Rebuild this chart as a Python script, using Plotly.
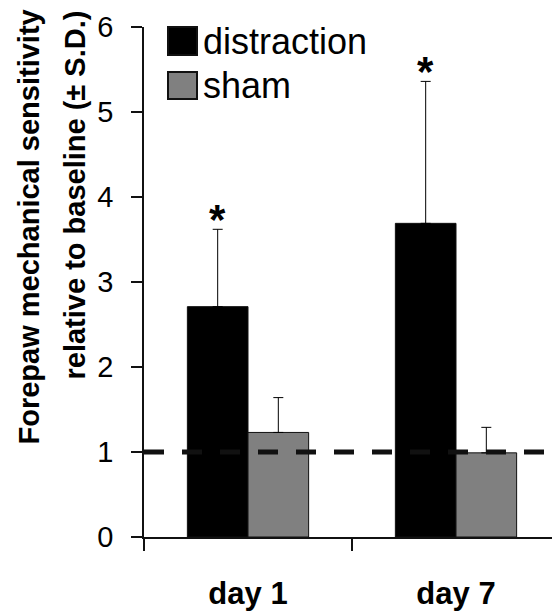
import plotly.graph_objects as go

# ---- data ----
categories = ["day 1", "day 7"]
distraction = [2.71, 3.69]
distraction_sd = [0.91, 1.67]
sham = [1.23, 0.99]
sham_sd = [0.41, 0.30]
baseline = 1.0
significance = ["*", "*"]
series_names = ["distraction", "sham"]
y_ticks = [0, 1, 2, 3, 4, 5, 6]
y_title_lines = ["Forepaw mechanical sensitivity", "relative to baseline (± S.D.)"]

FONT = "Liberation Sans, Arial, sans-serif"
OFF = 8  # page body margin
W, H = 560 - OFF, 612 - OFF
L, R, T, B = 144 - OFF, 0, 27 - OFF, 75
PW, PH = W - L - R, H - T - B


def px(xp):
    return (xp - OFF - L) / PW


def py(yp):
    return (H - B - (yp - OFF)) / PH


fig = go.Figure()
fig.add_trace(go.Bar(
    x=categories, y=distraction, name=series_names[0],
    marker=dict(color="#000000", line=dict(color="#111111", width=1)),
    error_y=dict(type="data", array=distraction_sd, arrayminus=[0] * len(distraction_sd),
                 symmetric=False, color="#000000", thickness=1, width=5),
    showlegend=False,
))
fig.add_trace(go.Bar(
    x=categories, y=sham, name=series_names[1],
    marker=dict(color="#808080", line=dict(color="#111111", width=1)),
    error_y=dict(type="data", array=sham_sd, arrayminus=[0] * len(sham_sd),
                 symmetric=False, color="#000000", thickness=1, width=5),
    showlegend=False,
))

# baseline dashed line
fig.add_shape(type="line", xref="paper", x0=0, x1=1, yref="y", y0=baseline, y1=baseline,
              line=dict(color="#111111", width=5, dash="20px,18px"), layer="above")

annotations = []
# significance asterisks
bar_offset = 0.583 * PW / len(categories) / 4
for cat, m, s, sig in zip(categories, distraction, distraction_sd, significance):
    annotations.append(dict(x=cat, y=m + s, xref="x", yref="y", text="<b>%s</b>" % sig,
                            showarrow=False, xanchor="center", yanchor="bottom",
                            xshift=-bar_offset, yshift=-16,
                            font=dict(family=FONT, size=42, color="#000")))

# manual legend
shapes_legend = [
    (series_names[0], "#000000", 27, 55, 41),
    (series_names[1], "#808080", 72, 99, 85),
]
for name, col, y0, y1, yc in shapes_legend:
    fig.add_shape(type="rect", xref="paper", yref="paper", x0=px(168), x1=px(197),
                  y0=py(y1), y1=py(y0), fillcolor=col, line=dict(color="#111111", width=2),
                  layer="above")
    annotations.append(dict(x=px(201), y=py(yc), xref="paper", yref="paper", text=name,
                            showarrow=False, xanchor="left", yanchor="middle",
                            font=dict(family=FONT, size=36, color="#000")))

# y title (two lines, top aligned)
for line, xc, ytop in zip(y_title_lines, [29, 75], [8, 9]):
    annotations.append(dict(x=px(xc), y=py(ytop), xref="paper", yref="paper",
                            text="<b>%s</b>" % line, textangle=-90, showarrow=False,
                            xanchor="center", yanchor="top",
                            font=dict(family=FONT, size=29, color="#000")))

fig.update_layout(
    width=W, height=H,
    margin=dict(l=L, r=R, t=T, b=B, autoexpand=False),
    paper_bgcolor="white", plot_bgcolor="white",
    barmode="group", bargap=0.417, bargroupgap=0,
    annotations=annotations,
    font=dict(family=FONT, color="#000"),
)
fig.update_xaxes(
    type="category", range=[-0.5, 1.5], showline=True, linecolor="#111111", linewidth=1.5,
    ticks="outside", tickson="boundaries", ticklen=12, tickwidth=1.5, tickcolor="#111111",
    showgrid=False, zeroline=False, automargin=False,
    tickfont=dict(family=FONT, size=31, color="#000"),
    tickvals=categories, ticktext=["<b>%s</b>" % c for c in categories],
    ticklabelstandoff=28,
)
fig.update_yaxes(
    range=[0, 6], tickvals=y_ticks, showline=True, linecolor="#111111", linewidth=1.5,
    ticks="outside", ticklen=11, tickwidth=1.5, tickcolor="#111111",
    showgrid=False, zeroline=False, automargin=False,
    tickfont=dict(family=FONT, size=29, color="#000"),
    ticklabelstandoff=12,
)

fig.write_html("out.html")
